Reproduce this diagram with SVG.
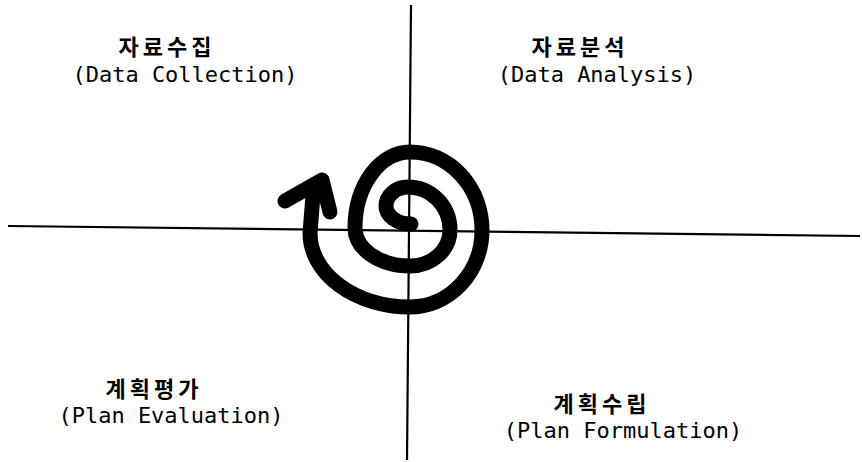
<svg xmlns="http://www.w3.org/2000/svg" width="862" height="462" viewBox="0 0 862 462">
<style>
.ko{font-family:"Noto Sans CJK KR","Noto Sans",sans-serif;font-size:22px;font-weight:bold;letter-spacing:4px;fill:#000;text-anchor:middle}
.en{font-family:"DejaVu Sans Mono","Liberation Mono",monospace;font-size:22px;fill:#000;text-anchor:middle}
.ax{stroke:#000;stroke-width:2.2;fill:none}
.sp{stroke:#000;stroke-width:15;fill:none;stroke-linecap:round;stroke-linejoin:round}
</style>
<rect width="862" height="462" fill="#fff"/>
<g id="connectors">
<line class="ax" x1="411" y1="5" x2="407" y2="460"/>
<line class="ax" x1="8" y1="226" x2="860" y2="236"/>
</g>
<g id="spiral">
<path class="sp" d="M411,224 A25,18 0 0 1 386,206 A22,19 0 0 1 408,187 A42,43 0 0 1 450,230 A40,36 0 0 1 410,266 A55,38 0 0 1 355,228 A55,76 0 0 1 410,152 A72,78 0 0 1 482,230 A72,77 0 0 1 410,307 A100,74 0 0 1 310,233 L313,195"/>
<polyline class="sp" points="285,201 322,180 330,212"/>
</g>
<g id="n1">
<text class="ko" x="167" y="55">자료수집</text>
<text class="en" x="185" y="82">(Data Collection)</text>
</g>
<g id="n2">
<text class="ko" x="580" y="55">자료분석</text>
<text class="en" x="597" y="82">(Data Analysis)</text>
</g>
<g id="n3">
<text class="ko" x="154" y="397">계획평가</text>
<text class="en" x="171" y="423">(Plan Evaluation)</text>
</g>
<g id="n4">
<text class="ko" x="602" y="412">계획수립</text>
<text class="en" x="623" y="438">(Plan Formulation)</text>
</g>
</svg>
